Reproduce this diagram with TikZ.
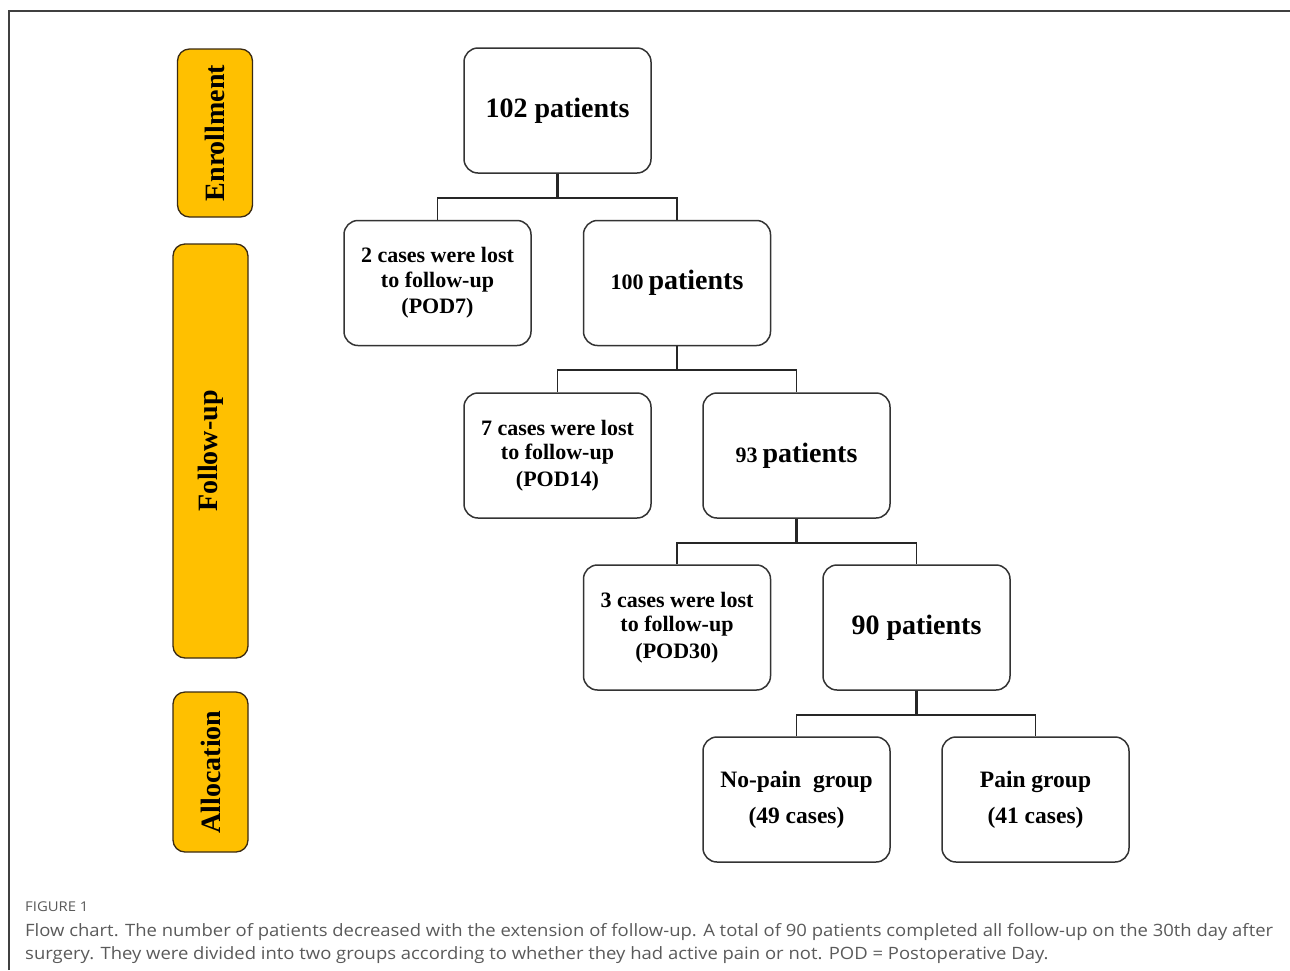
\documentclass[tikz,border=0pt]{standalone}
\usepackage{graphicx}
\usepackage{fontspec}
\setmainfont{Liberation Serif}
\newfontfamily\capfont{Open Sans}
\definecolor{gold}{HTML}{FFC000}
\definecolor{goldedge}{HTML}{3A2A12}
\definecolor{capgray}{HTML}{5A5A5A}
\begin{document}
\begin{tikzpicture}[x=1pt,y=-1pt,
  box/.style={draw=black!80, line width=1.5pt, rounded corners=14pt, minimum width=187pt, minimum height=125pt, align=center, inner sep=0pt, font=\bfseries},
  big/.style={font=\bfseries\fontsize{28}{32}\selectfont},
  small/.style={font=\bfseries\fontsize{22}{24.5}\selectfont},
  grp/.style={font=\bfseries\fontsize{23.5}{36}\selectfont},
  side/.style={draw=goldedge, fill=gold, line width=1.3pt, rounded corners=12pt, minimum height=75pt, inner sep=0pt, rotate=90, font=\bfseries\fontsize{28}{32}\selectfont},
  conn/.style={line width=1.7pt, draw=black!85},
  trunk/.style={line width=2.7pt, draw=black!85},
  captext/.style={anchor=base west, inner sep=0pt, text=capgray}]
\useasboundingbox (0,0) rectangle (1290,970);
% frame
\draw[line width=1.2pt, black!75] (9,970) -- (9,11) -- (1290,11);
% side labels
\node[side, minimum width=168pt] (enr) at (215,133) {Enrollment};
\node[side, minimum width=414pt] (fol) at (210.5,451) {Follow-up};
\node[side, minimum width=160pt] (alloc) at (210.5,772) {Allocation};
% boxes
\node[box, big] (n102) at (557.5,110.5) {102 patients};
\node[box, small] (lost7) at (437.5,283) {2 cases were lost\\to follow-up\\[2pt](POD7)};
\node[box] (p100) at (677,283) {{\fontsize{22}{24}\selectfont 100}\hspace{5pt}{\fontsize{28}{32}\selectfont patients}};
\node[box, small] (lost14) at (557.5,455.5) {7 cases were lost\\to follow-up\\[2pt](POD14)};
\node[box] (p93) at (796.5,455.5) {{\fontsize{22}{24}\selectfont 93}\hspace{5pt}{\fontsize{28}{32}\selectfont patients}};
\node[box, small] (lost30) at (677,627.5) {3 cases were lost\\to follow-up\\[2pt](POD30)};
\node[box, big] (p90) at (916.5,627.5) {90 patients};
\node[box, grp] (nopain) at (796.5,799.5) {No-pain~~group\\(49 cases)};
\node[box, grp] (pain) at (1035.5,799.5) {Pain group\\(41 cases)};
% connectors
\draw[trunk] (n102.south) -- ++(0,24) coordinate (j1);
\draw[conn] (lost7.north) -- (lost7.north |- j1) -- (p100.north |- j1) -- (p100.north);
\draw[trunk] (p100.south) -- ++(0,24) coordinate (j2);
\draw[conn] (lost14.north) -- (lost14.north |- j2) -- (p93.north |- j2) -- (p93.north);
\draw[trunk] (p93.south) -- ++(0,24) coordinate (j3);
\draw[conn] (lost30.north) -- (lost30.north |- j3) -- (p90.north |- j3) -- (p90.north);
\draw[trunk] (p90.south) -- ++(0,24) coordinate (j4);
\draw[conn] (nopain.north) -- (nopain.north |- j4) -- (pain.north |- j4) -- (pain.north);
% caption
\node[captext, font=\capfont\fontsize{13.5}{16}\selectfont] (figlab) at (25,911) {\scalebox{1.1}[1]{FIGURE 1}};
\node[captext, font=\capfont\fontsize{17}{20}\selectfont] (cap1) at (25,936) {\scalebox{1.086}[1]{Flow chart. The number of patients decreased with the extension of follow-up. A total of 90 patients completed all follow-up on the 30th day after}};
\node[captext, font=\capfont\fontsize{17}{20}\selectfont] (cap2) at (25,959) {\scalebox{1.086}[1]{surgery. They were divided into two groups according to whether they had active pain or not. POD = Postoperative Day.}};
\end{tikzpicture}
\end{document}
